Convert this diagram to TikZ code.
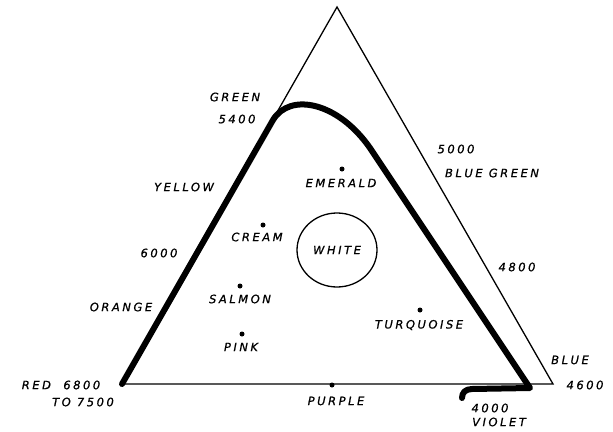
\documentclass[tikz,border=0pt]{standalone}
\usepackage{fontspec}
\setmainfont{DejaVu Sans}[LetterSpace=22,FakeBold=0.8]
\usetikzlibrary{shapes.geometric}

\begin{document}
\begin{tikzpicture}[x=1pt,y=-1pt,
  lbl/.style={inner sep=0pt,font=\itshape\fontsize{11.5}{13}\selectfont},
  spot/.style={circle,fill,inner sep=0pt,minimum size=5pt}]
\useasboundingbox (0,0) rectangle (613,431);
% colour triangle
\coordinate (apex) at (337,7);
\coordinate (redc) at (122,384);
\coordinate (bluec) at (553,384);
\draw[line width=1.3pt] (redc) -- (apex) -- (bluec) -- cycle;
% spectrum curve
\draw[line width=6pt,line join=round,line cap=round]
  (redc) -- (273,120) .. controls (290,92) and (338,102) .. (370,148)
  -- (530,388) -- (472,389) .. controls (465,389) and (462,393) .. (462,398);
% white point
\node[ellipse,draw,line width=1.3pt,minimum width=80pt,minimum height=74pt,
  lbl] (white) at (337,250) {WHITE};
% mixtures inside
\node[spot] (emeralddot) at (342,169) {};
\node[lbl] (emerald) at (341,183) {EMERALD};
\node[spot] (creamdot) at (263,225) {};
\node[lbl] (cream) at (257,237) {CREAM};
\node[spot] (salmondot) at (240,286) {};
\node[lbl] (salmon) at (240,299) {SALMON};
\node[spot] (pinkdot) at (242,334) {};
\node[lbl] (pink) at (241,347) {PINK};
\node[spot] (turqdot) at (420,310) {};
\node[lbl] (turq) at (419,325) {TURQUOISE};
\node[spot] (purpledot) at (332,385) {};
\node[lbl] (purple) at (336,401) {PURPLE};
% spectrum labels
\node[lbl] (green) at (235,97) {GREEN};
\node[lbl] (w5400) at (237,119) {5400};
\node[lbl] (yellow) at (184,187) {YELLOW};
\node[lbl] (w6000) at (159,253) {6000};
\node[lbl] (orange) at (121,307) {ORANGE};
\node[lbl] (red) at (61,385) {RED\ \ 6800};
\node[lbl] (w7500) at (83,402) {TO 7500};
\node[lbl] (w5000) at (456,149) {5000};
\node[lbl] (bluegreen) at (492,173) {BLUE GREEN};
\node[lbl] (w4800) at (517,267) {4800};
\node[lbl] (blue) at (570,360) {BLUE};
\node[lbl] (w4600) at (585,385) {4600};
\node[lbl] (w4000) at (490,408) {4000};
\node[lbl] (violet) at (499,422) {VIOLET};
\end{tikzpicture}
\end{document}
